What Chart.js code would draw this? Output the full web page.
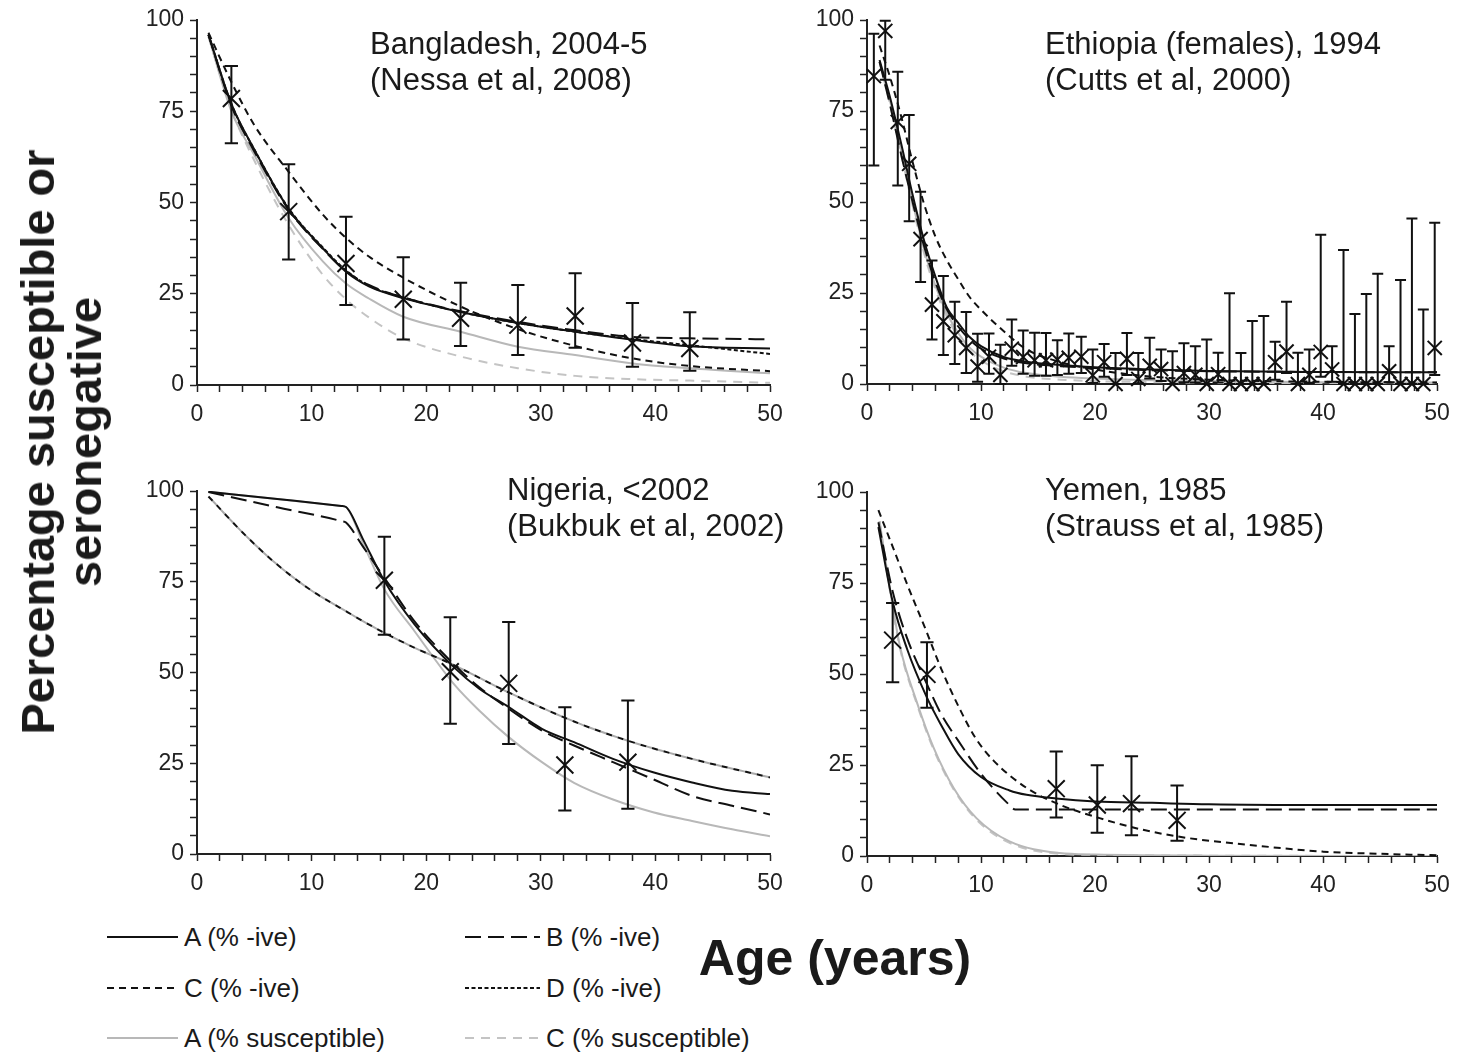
<!DOCTYPE html>
<html>
<head>
<meta charset="utf-8">
<script src="https://cdn.jsdelivr.net/npm/chart.js@4.4.1/dist/chart.umd.min.js"></script>
<style>
  body { margin: 0; background: #fff; width: 1470px; height: 1057px; position: relative; overflow: hidden;
         font-family: "Liberation Sans", Arial, sans-serif; color: #1a1a1a; }
  canvas { position: absolute; }
  .title { position: absolute; font-size: 31px; line-height: 36px; white-space: nowrap; }
  .ytitle { position: absolute; left: 61px; top: 442px; transform: translate(-50%, -50%) rotate(-90deg);
            font-weight: bold; font-size: 47px; line-height: 47px; text-align: center; white-space: nowrap; }
  .xtitle { position: absolute; left: 835px; top: 958px; transform: translate(-50%, -50%);
            font-weight: bold; font-size: 50px; white-space: nowrap; }
  .lg { position: absolute; font-size: 26px; line-height: 30px; white-space: nowrap; }
  .lg svg { position: absolute; left: 0; top: 0; }
</style>
</head>
<body>
<canvas id="bg" width="700" height="430" style="left:100px;top:0px"></canvas>
<canvas id="et" width="680" height="429" style="left:790px;top:0px"></canvas>
<canvas id="ng" width="700" height="439" style="left:100px;top:460px"></canvas>
<canvas id="ym" width="680" height="441" style="left:790px;top:460px"></canvas>

<div class="title" style="left:370px;top:26px">Bangladesh, 2004-5<br>(Nessa et al, 2008)</div>
<div class="title" style="left:1045px;top:26px">Ethiopia (females), 1994<br>(Cutts et al, 2000)</div>
<div class="title" style="left:507px;top:472px">Nigeria, &lt;2002<br>(Bukbuk et al, 2002)</div>
<div class="title" style="left:1045px;top:472px">Yemen, 1985<br>(Strauss et al, 1985)</div>

<div class="ytitle">Percentage susceptible or<br>seronegative</div>
<div class="xtitle">Age (years)</div>

<div id="legend"></div>

<script>
const FONT = '"Liberation Sans", Arial, sans-serif';
const BLACK = '#111';
const GREY = '#b8b8b8';
const GREY_DASH = '#c4c4c4';

/* Bangladesh, 2004-5 */
const bgAges = [1, 3, 5, 8, 11, 13, 15, 18, 23, 28, 33, 38, 43, 50];
const bgA = [96, 77, 64.5, 48.2, 37.4, 31, 27, 23.8, 20, 17, 14.6, 12.4, 10.6, 10];
const bgB = [96, 76.5, 64, 48, 37.2, 31.2, 27.4, 24, 20.2, 17.3, 15, 13.2, 12.8, 12.5];
const bgC = [96.5, 83, 71.2, 58.4, 46.6, 40.3, 35.2, 29.4, 21.5, 15.3, 10.7, 7.3, 5.2, 3.8];
const bgD = [96, 77, 64.5, 48.4, 37.6, 31.4, 27.2, 24, 20, 17, 14.6, 12.6, 10.9, 8.5];
const bgAsus = [95.5, 75, 63, 45.7, 33.8, 27.8, 23.7, 18.7, 14.6, 10.5, 8.2, 5.9, 4.6, 3.2];
const bgCsus = [95.5, 75.5, 61.5, 43.8, 30.1, 23.5, 18.5, 12.8, 7.8, 4.6, 2.5, 1.6, 1.2, 0.6];
const bgObsAge = [3, 8, 13, 18, 23, 28, 33, 38, 43];
const bgObs = [78.5, 47.5, 33.3, 23.5, 18.3, 16.4, 18.9, 11.5, 10];
const bgLo = [66.2, 34.4, 21.9, 12.5, 10.7, 8.2, 10.2, 5, 3.9];
const bgHi = [87.4, 60.5, 46.1, 35, 28, 27.4, 30.6, 22.5, 19.9];

/* Ethiopia (females), 1994 */
const etAges = [1.1, 2, 3, 4, 5, 6, 7, 8, 9, 10, 12, 14, 17, 20, 25, 30, 40, 50];
const etA = [89, 79, 66, 52, 39.5, 29.5, 21, 16.8, 12.9, 10.4, 7.4, 6.1, 5.2, 4.6, 4, 3.6, 3.3, 3.2];
const etB = [88.5, 77, 63, 50, 38, 28, 20.5, 15.8, 12.2, 9.7, 7, 5.7, 4.9, 4.4, 3.8, 3.5, 3.3, 3.2];
const etC = [93, 84.5, 73.5, 61, 49.5, 40.5, 34, 28.8, 23.9, 20.4, 14.5, 9.5, 6, 4, 2, 1.2, 0.6, 0.4];
const etAsus = [88.5, 78, 64, 50, 37, 27, 19.5, 14, 10, 7.5, 4.5, 3, 2, 1.5, 1, 0.8, 0.5, 0.4];
const etCsus = [88.5, 77, 63, 49, 36, 26, 18.5, 13, 9, 6.5, 3.5, 2, 1.2, 0.8, 0.5, 0.3, 0.2, 0.1];
const etObsAge = [0.6, 1.6, 2.7, 3.7, 4.7, 5.7, 6.7, 7.7, 8.7, 9.7, 10.7, 11.7, 12.7, 13.7, 14.7, 15.7, 16.7,
  17.7, 18.8, 19.8, 20.8, 21.8, 22.8, 23.8, 24.8, 25.8, 26.8, 27.8, 28.8, 29.8, 30.8, 31.8, 32.8, 33.8,
  34.8, 35.8, 36.8, 37.8, 38.8, 39.8, 40.8, 41.8, 42.8, 43.8, 44.8, 45.8, 46.8, 47.8, 48.8, 49.8];
const etObs = [84.6, 97, 72, 60.5, 39.8, 21.8, 17.2, 13.4, 9.9, 4.8, 7.5, 2.5, 9.7, 7.4, 6.5, 6.5, 6.7,
  7.2, 7.5, 2.4, 6, 0, 6.9, 1.4, 5, 4.1, 0, 3, 2.5, 0, 2.7, 0, 0, 0,
  0, 6, 8.9, 0, 2.5, 8.8, 4, 0, 0, 0, 0, 3.5, 0, 0, 0, 9.9];
const etLo = [60, 83.6, 54.5, 44.7, 28, 12.2, 8, 5.5, 3, 0.6, 2.8, 0, 5, 2.8, 2.3, 2.3, 2.5,
  2.8, 3, 0.3, 2, 0, 2.5, 0.2, 1.5, 0.8, 0, 0.5, 0.4, 0, 0.4, 0, 0, 0,
  0, 1.2, 3, 0, 0.3, 2, 0.6, 0, 0, 0, 0, 0.5, 0, 0, 0, 2.5];
const etHi = [96.2, 99.8, 85.8, 73.9, 52.8, 33.9, 29.7, 22.6, 19.8, 13.8, 13.9, 10.8, 17.7, 14.7, 14.1, 14, 12,
  13.9, 13, 9.5, 11, 8.5, 14, 8.5, 12.7, 9.5, 9, 11.2, 10.4, 12.2, 8.6, 24.9, 8.5, 17.3,
  18.7, 11.6, 22.6, 8.6, 9.5, 41, 10.4, 36.8, 19.2, 24.7, 30.3, 10.4, 28.6, 45.5, 20.5, 44.3];

/* Nigeria, <2002 */
const ngAges = [1, 7, 12.6, 13, 14.5, 16.35, 19, 22.5, 24.6, 27.2, 30.1, 32.9, 36.3, 39.8, 43.2, 46.7, 50];
const ngA = [99.8, 97.8, 95.9, 95.6, 86.6, 75.2, 63.2, 51.2, 45.6, 40.5, 34.5, 30.8, 26.2, 22.5, 19.7, 17.4, 16.5];
const ngB = [99.7, 95.5, 91.7, 91.3, 84.6, 76.1, 64, 52, 46, 40, 34, 29.9, 25.3, 20.6, 16, 13.3, 10.9];
const ngAsus = [99.8, 97.8, 95.9, 95.6, 85.5, 72.9, 61.3, 46.5, 39.6, 32.2, 25.3, 19.6, 15, 11.5, 9.1, 6.8, 4.9];
const ngAgesC = [1, 4, 6.6, 9.7, 13.2, 16.3, 19, 22.1, 27.2, 32.9, 37.6, 43.2, 50];
const ngC = [98.5, 88.5, 80.8, 73.2, 66.5, 61, 56.8, 52.5, 44.5, 36.5, 31.2, 26.2, 21.1];
const ngCsus = [98.5, 88.5, 80.8, 73.2, 66.5, 61, 56.8, 52.5, 44.5, 36.5, 31.2, 26.2, 21.1];
const ngObsAge = [16.35, 22.1, 27.2, 32.1, 37.6];
const ngObs = [75.4, 50.2, 47, 24.5, 25.3];
const ngLo = [60.4, 35.9, 30.3, 12, 12.5];
const ngHi = [87.4, 65.2, 63.9, 40.4, 42.3];

/* Yemen, 1985 */
const ymAgesA = [1, 2.25, 3.5, 5.26, 6.5, 8, 10, 12.5, 14, 16.6, 20, 25, 30, 40, 50];
const ymA = [90.4, 69.9, 57, 43.5, 36, 28, 21.7, 18, 16.8, 15.8, 15, 14.6, 14.2, 14, 14];
const ymAgesB = [1, 2.25, 3.5, 5.26, 6.5, 8, 10, 12.3, 13, 50];
const ymB = [91.7, 72.7, 60, 47.2, 39, 31.7, 22.6, 14.6, 12.8, 12.8];
const ymAgesC = [1, 2.25, 3.5, 5.2, 6.5, 8.2, 9.5, 11.1, 14, 16.9, 20.4, 24.2, 28, 32.2, 40, 45, 50];
const ymC = [95, 85, 74.8, 61.8, 51.5, 40, 32.5, 26.2, 18.7, 14.1, 10.4, 7.2, 5, 3.5, 1.2, 0.6, 0.2];
const ymAgesSus = [1.1, 2, 2.9, 4.4, 5.85, 7.6, 9.6, 12.5, 16.9, 20, 30, 50];
const ymAsus = [92, 73.6, 57.5, 42, 29.7, 18.7, 10.4, 4, 0.8, 0.4, 0.1, 0];
const ymCsus = [92, 73, 57, 41.5, 29.2, 18.3, 10, 3.6, 0.6, 0.3, 0.1, 0];
const ymObsAge = [2.25, 5.26, 16.6, 20.2, 23.2, 27.2];
const ymObs = [59.3, 49.9, 18.5, 14, 14.4, 9.8];
const ymLo = [47.7, 40.7, 10.6, 6.4, 5.7, 4.2];
const ymHi = [69.5, 58.7, 28.7, 24.9, 27.4, 19.4];

/* line styles */
const DASH_B = [16, 7];
const DASH_C = [7, 5];
const DASH_D = [4, 2.5];
const DASH_CSUS = [9, 7];
const DASH_MIX = [6, 6];

/* Legend entries: label, colour, dash */
const legendItems = [
  ['A (% -ive)', BLACK, []], ['B (% -ive)', BLACK, DASH_B],
  ['C (% -ive)', BLACK, DASH_C], ['D (% -ive)', BLACK, DASH_D],
  ['A (% susceptible)', GREY, []], ['C (% susceptible)', GREY_DASH, DASH_CSUS]
];

/* draws vertical error bars with caps from dataset.errLo / errHi */
const errorBars = {
  id: 'errorBars',
  afterDatasetsDraw(chart) {
    const ctx = chart.ctx;
    const xs = chart.scales.x, ys = chart.scales.y;
    chart.data.datasets.forEach((ds) => {
      if (!ds.errLo) return;
      ctx.save();
      ctx.strokeStyle = BLACK;
      ctx.lineWidth = 2;
      ds.data.forEach((p, j) => {
        const px = xs.getPixelForValue(p.x);
        const top = ys.getPixelForValue(ds.errHi[j]);
        const bot = ys.getPixelForValue(ds.errLo[j]);
        const w = ds.capHalf;
        ctx.beginPath();
        ctx.moveTo(px, top); ctx.lineTo(px, bot);
        ctx.moveTo(px - w, top); ctx.lineTo(px + w, top);
        ctx.moveTo(px - w, bot); ctx.lineTo(px + w, bot);
        ctx.stroke();
      });
      ctx.restore();
    });
  }
};
Chart.register(errorBars);

function curve(ages, vals, color, dash, offset) {
  return {
    data: ages.map((a, i) => ({x: a, y: vals[i]})),
    borderColor: color,
    borderWidth: 2,
    borderDash: dash,
    borderDashOffset: offset || 0,
    pointRadius: 0,
    fill: false,
    cubicInterpolationMode: 'monotone'
  };
}

function observed(ages, vals, lo, hi, size) {
  return {
    data: ages.map((a, i) => ({x: a, y: vals[i]})),
    showLine: false,
    pointStyle: 'crossRot',
    pointRadius: size,
    pointBorderWidth: 2,
    pointBorderColor: BLACK,
    pointBackgroundColor: 'transparent',
    borderColor: BLACK,
    clip: false,
    errLo: lo,
    errHi: hi,
    capHalf: size * 0.55
  };
}

function axis(max, step, every, width, height) {
  return {
    type: 'linear',
    min: 0,
    max: max,
    afterFit: (s) => { if (width) s.width = width; if (height) s.height = height; },
    ticks: {
      stepSize: step,
      autoSkip: false,
      maxRotation: 0,
      padding: width ? 6 : 9,
      color: '#222',
      font: {family: FONT, size: 23},
      callback: (v) => (v % every === 0 ? v : '')
    },
    grid: {drawOnChartArea: false, drawTicks: true, tickLength: 7, tickColor: '#222', tickWidth: 1.5},
    border: {display: true, color: '#222', width: 2}
  };
}

function panel(id, yw, padTop, padRight, datasets) {
  return new Chart(document.getElementById(id), {
    type: 'line',
    data: {datasets: datasets},
    options: {
      responsive: false,
      animation: false,
      events: [],
      layout: {padding: {left: 0, top: padTop, right: padRight, bottom: 0}},
      plugins: {legend: {display: false}, tooltip: {enabled: false}},
      scales: {
        x: axis(50, 2, 10, 0, 45),
        y: axis(100, 5, 25, yw, 0)
      }
    }
  });
}

panel('bg', 97, 20, 30, [
  observed(bgObsAge, bgObs, bgLo, bgHi, 12),
  curve(bgAges, bgA, BLACK, []),
  curve(bgAges, bgB, BLACK, DASH_B),
  curve(bgAges, bgD, BLACK, DASH_D),
  curve(bgAges, bgC, BLACK, DASH_C),
  curve(bgAges, bgAsus, GREY, []),
  curve(bgAges, bgCsus, GREY_DASH, DASH_CSUS)
]);

panel('et', 77, 20, 33, [
  observed(etObsAge, etObs, etLo, etHi, 10),
  curve(etAges, etA, BLACK, []),
  curve(etAges, etB, BLACK, DASH_B),
  curve(etAges, etC, BLACK, DASH_C),
  curve(etAges, etAsus, GREY, []),
  curve(etAges, etCsus, GREY_DASH, DASH_CSUS)
]);

panel('ng', 97, 31, 30, [
  observed(ngObsAge, ngObs, ngLo, ngHi, 12),
  curve(ngAges, ngA, BLACK, []),
  curve(ngAges, ngB, BLACK, DASH_B),
  curve(ngAgesC, ngC, BLACK, DASH_MIX),
  curve(ngAgesC, ngCsus, '#aaa', DASH_MIX, 6),
  curve(ngAges, ngAsus, GREY, [])
]);

panel('ym', 77, 32, 33, [
  observed(ymObsAge, ymObs, ymLo, ymHi, 12),
  curve(ymAgesA, ymA, BLACK, []),
  curve(ymAgesB, ymB, BLACK, DASH_B),
  curve(ymAgesC, ymC, BLACK, DASH_C),
  curve(ymAgesSus, ymAsus, GREY, []),
  curve(ymAgesSus, ymCsus, GREY_DASH, DASH_CSUS)
]);

/* Legend: two columns, three rows */
const legend = document.getElementById('legend');
legendItems.forEach((item, i) => {
  const col = i % 2, row = Math.floor(i / 2);
  const div = document.createElement('div');
  div.className = 'lg';
  const lineW = col ? 75 : 71;
  div.style.left = (col ? 465 : 107) + 'px';
  div.style.top = (922 + row * 50.5) + 'px';
  div.style.paddingLeft = (lineW + 6) + 'px';
  div.innerHTML = '<svg width="' + lineW + '" height="30"><line x1="0" y1="15" x2="' + lineW +
    '" y2="15" stroke="' + item[1] + '" stroke-width="2" stroke-dasharray="' + item[2].join(' ') +
    '"/></svg>' + item[0];
  legend.appendChild(div);
});
</script>
</body>
</html>
